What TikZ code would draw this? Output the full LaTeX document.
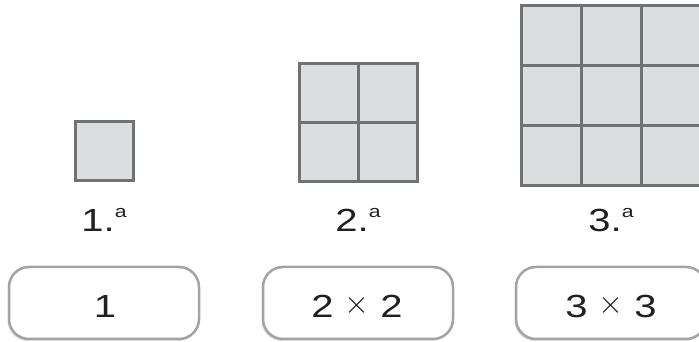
\documentclass[tikz,border=0pt]{standalone}
\usepackage{fontspec}
\setmainfont[FakeStretch=1.25]{Liberation Sans}
\usetikzlibrary{shadows}
\definecolor{cellfill}{HTML}{DCDDDF}
\definecolor{cellline}{HTML}{707173}
\definecolor{boxline}{HTML}{A2A3A6}
\definecolor{txt}{HTML}{231F20}
\newcommand{\ordsup}{\raisebox{14pt}{\fontsize{17}{20}\selectfont a}}
\newcommand{\timesgap}{\hspace{11pt}\raisebox{3.5pt}{\scalebox{3.2}{\fontsize{10}{12}\selectfont$\times$}}\hspace{11pt}}
\tikzset{
  grid/.style={fill=cellfill, draw=cellline, line width=3pt},
  gridlines/.style={draw=cellline, line width=3pt},
  lbl/.style={anchor=base, text=txt, font=\fontsize{32}{38}\selectfont, inner sep=0pt},
  answer/.style={draw=boxline, line width=2.5pt, rounded corners=20pt, fill=white,
    minimum width=190pt, minimum height=72pt,
    drop shadow={shadow xshift=-1.5pt, shadow yshift=-2pt, opacity=0.2, fill=black!60}},
  anstext/.style={text=txt, font=\fontsize{32}{38}\selectfont, inner sep=0pt},
}
\begin{document}
\begin{tikzpicture}[x=1pt,y=1pt]
\useasboundingbox (0,0) rectangle (699,342);
% grid 1
\draw[grid] (75,161) rectangle (133,220);
% grid 2
\draw[grid] (299,160) rectangle (417,278);
\draw[gridlines] (358,160) -- (358,278) (299,219) -- (417,219);
% grid 3
\draw[grid] (521,156) rectangle (701,336);
\draw[gridlines] (581,156) -- (581,336) (641,156) -- (641,336)
  (521,216) -- (701,216) (521,276) -- (701,276);
% labels
\node[lbl] (l1) at (104,110) {1.\ordsup};
\node[lbl] (l2) at (358,110) {2.\ordsup};
\node[lbl] (l3) at (611,110) {3.\ordsup};
% answer boxes
\node[answer] (b1) at (104,39) {};
\node[answer] (b2) at (358,39) {};
\node[answer] (b3) at (611,39) {};
\node[anstext] (t1) at (105,36) {1};
\node[anstext] (t2) at (357,36) {2\timesgap{}2};
\node[anstext] (t3) at (611,36) {3\timesgap{}3};
\end{tikzpicture}
\end{document}
